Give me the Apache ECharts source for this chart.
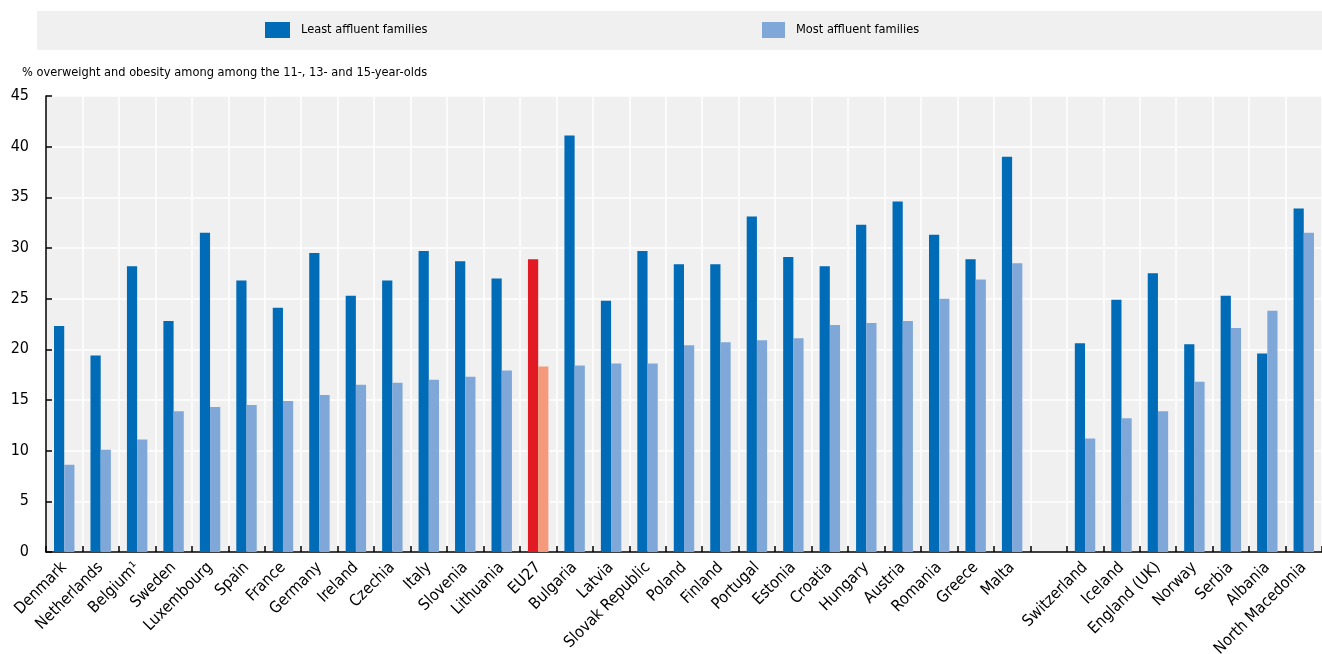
<!DOCTYPE html>
<html><head><meta charset="utf-8">
<script src="https://cdn.jsdelivr.net/npm/echarts@6/dist/echarts.min.js"></script>
<style>html,body{margin:0;padding:0;background:#fff}#c{width:1322px;height:654px}</style>
</head><body><div id="c"></div>
<script>
const categories = ["Denmark","Netherlands","Belgium¹","Sweden","Luxembourg","Spain","France","Germany","Ireland","Czechia","Italy","Slovenia","Lithuania","EU27","Bulgaria","Latvia","Slovak Republic","Poland","Finland","Portugal","Estonia","Croatia","Hungary","Austria","Romania","Greece","Malta","","Switzerland","Iceland","England (UK)","Norway","Serbia","Albania","North Macedonia"];
const leastAffluent = [22.3,19.4,28.2,22.8,31.5,26.8,24.1,29.5,25.3,26.8,29.7,28.7,27.0,28.9,41.1,24.8,29.7,28.4,28.4,33.1,29.1,28.2,32.3,34.6,31.3,28.9,39.0,null,20.6,24.9,27.5,20.5,25.3,19.6,33.9];
const mostAffluent = [8.6,10.1,11.1,13.9,14.3,14.5,14.9,15.5,16.5,16.7,17.0,17.3,17.9,18.3,18.4,18.6,18.6,20.4,20.7,20.9,21.1,22.4,22.6,22.8,25.0,26.9,28.5,null,11.2,13.2,13.9,16.8,22.1,23.8,31.5];
const yTicks = [0,5,10,15,20,25,30,35,40,45];
const highlight = "EU27";

const FONT = "'DejaVu Sans Condensed','Liberation Sans',Arial,sans-serif";
const C_DARK = "#006bb6", C_LIGHT = "#7fa8d9", C_HDARK = "#e21a23", C_HLIGHT = "#f49a7b";

const chart = echarts.init(document.getElementById('c'), null, {renderer:'canvas'});
const mk = (vals, hl) => vals.map((v,i)=> categories[i]===highlight ? {value:v, itemStyle:{color:hl}} : v);
chart.setOption({
  animation:false,
  textStyle:{fontFamily:FONT},
  graphic:[
    {type:'rect', left:37, top:11, shape:{width:1285, height:39}, style:{fill:'#f0f0f0'}, z:-1},
    {type:'text', left:22, top:66, style:{text:'% overweight and obesity among among the 11-, 13- and 15-year-olds', font:'12.7px '+FONT, fill:'#000'}}
  ],
  legend:[
    {data:['Least affluent families'], left:265, top:22, itemWidth:25, itemHeight:16, itemGap:0, padding:0, textStyle:{fontSize:12.7, color:'#000', fontFamily:FONT, padding:[2,0,0,6]}, icon:'rect'},
    {data:['Most affluent families'], left:762, top:22, itemWidth:23, itemHeight:16, itemGap:0, padding:0, textStyle:{fontSize:12.7, color:'#000', fontFamily:FONT, padding:[2,0,0,6]}, icon:'rect'}
  ],
  grid:{left:46, right:0, top:96, bottom:102, containLabel:false, outerBoundsMode:'none', backgroundColor:'#f0f0f0', show:true, borderWidth:0},
  xAxis:{
    type:'category', data:categories,
    axisLine:{lineStyle:{color:'#000', width:1.5}},
    axisTick:{show:true, inside:true, length:6, lineStyle:{color:'#000', width:1.5}},
    axisLabel:{rotate:45, interval:0, fontSize:16, color:'#000', fontFamily:FONT, margin:13},
    splitLine:{show:true, interval:0, lineStyle:{color:'#fff', width:1.5}}
  },
  yAxis:{
    type:'value', min:0, max:45, interval:5,
    axisLine:{show:true, lineStyle:{color:'#000', width:1.5}},
    axisTick:{show:true, inside:true, length:6, lineStyle:{color:'#000', width:1.5}},
    axisLabel:{fontSize:16, color:'#000', fontFamily:FONT, margin:17},
    splitLine:{show:true, lineStyle:{color:'#fff', width:1.5}}
  },
  series:[
    {name:'Least affluent families', type:'bar', data:mk(leastAffluent, C_HDARK), itemStyle:{color:C_DARK}, barGap:'0%', barCategoryGap:'44%'},
    {name:'Most affluent families', type:'bar', data:mk(mostAffluent, C_HLIGHT), itemStyle:{color:C_LIGHT}, barGap:'0%', barCategoryGap:'44%'}
  ]
});
</script></body></html>
